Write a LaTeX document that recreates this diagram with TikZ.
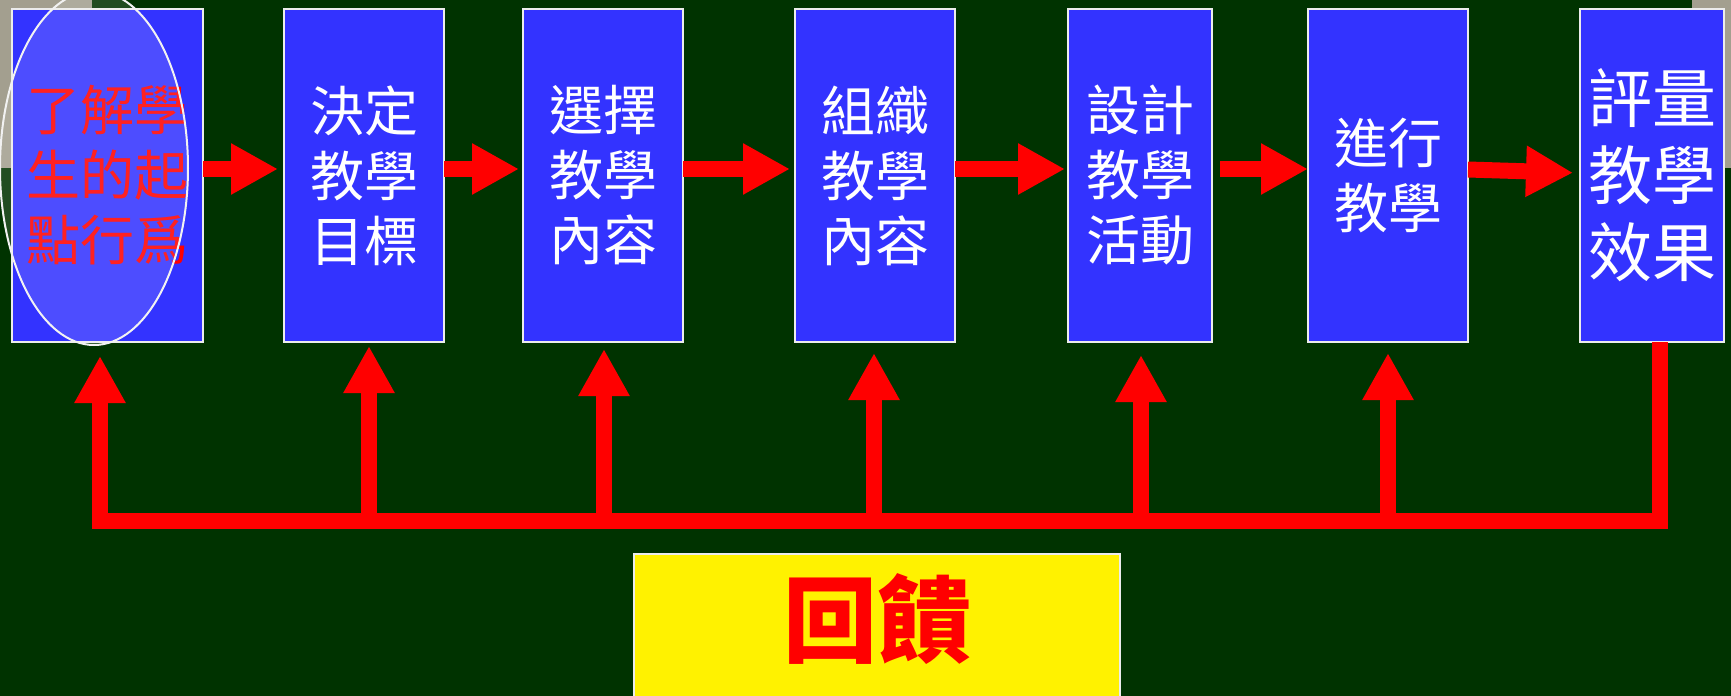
\documentclass[tikz,border=0pt]{standalone}
\usepackage{fontspec}
\newfontfamily\cjk{Noto Sans CJK TC}
\usetikzlibrary{arrows.meta,positioning}
\definecolor{bggreen}{HTML}{003300}
\definecolor{stageblue}{HTML}{3333FF}
\definecolor{cornergray}{HTML}{A39F8F}
\definecolor{fbred}{HTML}{FF0000}

\begin{document}
\begin{tikzpicture}[x=0.5pt, y=-0.5pt,
    stage/.style={rectangle, draw=white!85!gray, line width=1pt, fill=stageblue, minimum height=166.5pt, inner sep=0pt, outer sep=0pt, align=center, text=white, font=\cjk\fontsize{27}{32.5}\selectfont},
    fbbox/.style={rectangle, draw=white!85!gray, line width=1pt, fill=yellow, minimum width=243pt, minimum height=90pt},
    rarrow/.style={-{Triangle[width=24pt, length=23.5pt]}, line width=8pt, fbred},
    uparrow/.style={rarrow},
    fbline/.style={line width=8pt, fbred, line join=miter}
]
    % Background
    \useasboundingbox (0,0) rectangle (1731,696);
    \fill[bggreen] (0,0) rectangle (1731,696);
    \fill[cornergray] (0,0) rectangle (92,168);
    \fill[cornergray] (1692,0) rectangle (1731,168);

    % Stages
    \node[stage, minimum width=95.5pt, text=fbred] (start) at (107.5,175.5) {了解學\\生的起\\點行爲};
    \node[stage, minimum width=80pt, right=40.5pt of start] (goal) {決定\\教學\\目標};
    \node[stage, minimum width=80pt, right=39.5pt of goal] (select) {選擇\\教學\\內容};
    \node[stage, minimum width=80pt, right=56pt of select] (organize) {組織\\教學\\內容};
    \node[stage, minimum width=72pt, right=56.5pt of organize] (design) {設計\\教學\\活動};
    \node[stage, minimum width=80pt, right=48pt of design] (teach) {進行\\教學};
    \node[stage, minimum width=72pt, right=56pt of teach, font=\cjk\fontsize{32}{38.5}\selectfont] (assess) {評量\\教學\\效果};

    % Highlight
    \draw[white!90!gray, line width=1pt, fill=white, fill opacity=0.13] (94,168) ellipse [x radius=47pt, y radius=88.5pt];

    % Feedback
    \node[fbbox, anchor=north] (fb) at (877,553) {};
    \node[text=fbred, font=\cjk\bfseries\fontsize{47}{50}\selectfont] (fbtext) at (877,619) {回饋};

    % Arrows
    \draw[rarrow, shorten >=3pt] ([yshift=3.25pt]start.east) -- ([yshift=3.25pt]goal.west);
    \draw[rarrow, shorten >=2pt] ([yshift=3.25pt]goal.east) -- ([yshift=3.25pt]select.west);
    \draw[rarrow, shorten >=2.5pt] ([yshift=3.25pt]select.east) -- ([yshift=3.25pt]organize.west);
    \draw[rarrow, shorten >=1.5pt] ([yshift=3.25pt]organize.east) -- ([yshift=3.25pt]design.west);
    \draw[rarrow, shorten <=4pt] ([yshift=3.25pt]design.east) -- ([yshift=3.25pt]teach.west);
    \draw[rarrow, shorten >=3.5pt] ([yshift=3pt]teach.east) -- ([yshift=1.25pt]assess.west);

    % Feedback loop
    \coordinate (f1) at (100,521);
    \coordinate (f2) at (369,521);
    \coordinate (f3) at (604,521);
    \coordinate (f4) at (874,521);
    \coordinate (f5) at (1141,521);
    \coordinate (f6) at (1388,521);
    \draw[fbline] ([xshift=4pt]assess.south) -- ([xshift=4pt]assess.south |- f1) -- ([xshift=-4pt]f1);
    \draw[uparrow, shorten >=7pt] (f1) -- (f1 |- start.south);
    \draw[uparrow, shorten >=2pt] (f2) -- (f2 |- goal.south);
    \draw[uparrow, shorten >=3.5pt] (f3) -- (f3 |- select.south);
    \draw[uparrow, shorten >=5.5pt] (f4) -- (f4 |- organize.south);
    \draw[uparrow, shorten >=6.5pt] (f5) -- (f5 |- design.south);
    \draw[uparrow, shorten >=5.5pt] (f6) -- (f6 |- teach.south);
\end{tikzpicture}
\end{document}
